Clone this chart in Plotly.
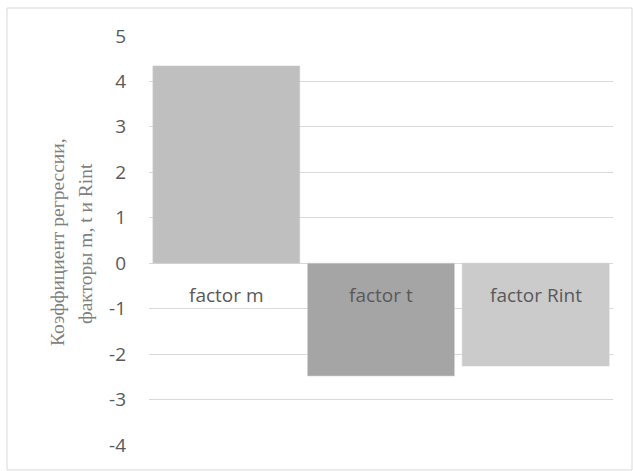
import plotly.graph_objects as go

# Regression coefficients per factor
categories = ["factor m", "factor t", "factor Rint"]
values = [4.34, -2.48, -2.26]
bar_colors = ["#bfbfbf", "#a5a5a5", "#cbcbcb"]
tick_values = [-4, -3, -2, -1, 0, 1, 2, 3, 4, 5]
tick_labels = [str(v) for v in tick_values]  # plain hyphen for negatives
title_lines = ["Коэффициент регрессии,", "факторы m, t и Rint"]

W, H = 633, 471
ML, MR, MT, MB = 149, 20, 35, 25
pw, ph = W - ML - MR, H - MT - MB

fig = go.Figure()
fig.add_trace(go.Bar(
    x=categories,
    y=values,
    marker=dict(color=bar_colors, line=dict(color="#d0d0d0", width=0.6)),
    showlegend=False,
))

# category labels placed just under the zero line
for cat in categories:
    fig.add_annotation(
        x=cat, y=0, xref="x", yref="y",
        text=cat, showarrow=False,
        yanchor="middle", yshift=-32,
        font=dict(family="Open Sans", size=19, color="#595959"),
    )

# y-axis title, two rotated serif lines
for line, px_x, px_y in zip(title_lines, [58, 86], [242, 244]):
    fig.add_annotation(
        x=(px_x - ML) / pw, y=(H - MB - px_y) / ph,
        xref="paper", yref="paper",
        text=line, showarrow=False, textangle=-90,
        xanchor="center", yanchor="middle",
        font=dict(family="Liberation Serif", size=19.5, color="#7f7f7f"),
    )

# outer chart frame
fig.add_shape(
    type="rect", xref="paper", yref="paper",
    x0=(7 - ML) / pw, x1=(632 - ML) / pw,
    y0=(H - MB - 470) / ph, y1=(H - MB - 8) / ph,
    line=dict(color="#d9d9d9", width=1), fillcolor="rgba(0,0,0,0)",
    layer="below",
)

fig.update_layout(
    width=W, height=H,
    margin=dict(l=ML, r=MR, t=MT, b=MB, pad=0),
    paper_bgcolor="white", plot_bgcolor="white",
    bargap=0.05,
    xaxis=dict(showticklabels=False, showgrid=False, zeroline=False,
               showline=False, ticks=""),
    yaxis=dict(
        range=[-4.02, 5.02], tickvals=tick_values, ticktext=tick_labels,
        showgrid=True, gridcolor="#d9d9d9", gridwidth=1,
        zeroline=True, zerolinecolor="#d9d9d9", zerolinewidth=1,
        showline=False, ticks="", ticklabelstandoff=22,
        tickfont=dict(family="Open Sans", size=19, color="#595959"),
    ),
)

fig.write_html("out.html")
